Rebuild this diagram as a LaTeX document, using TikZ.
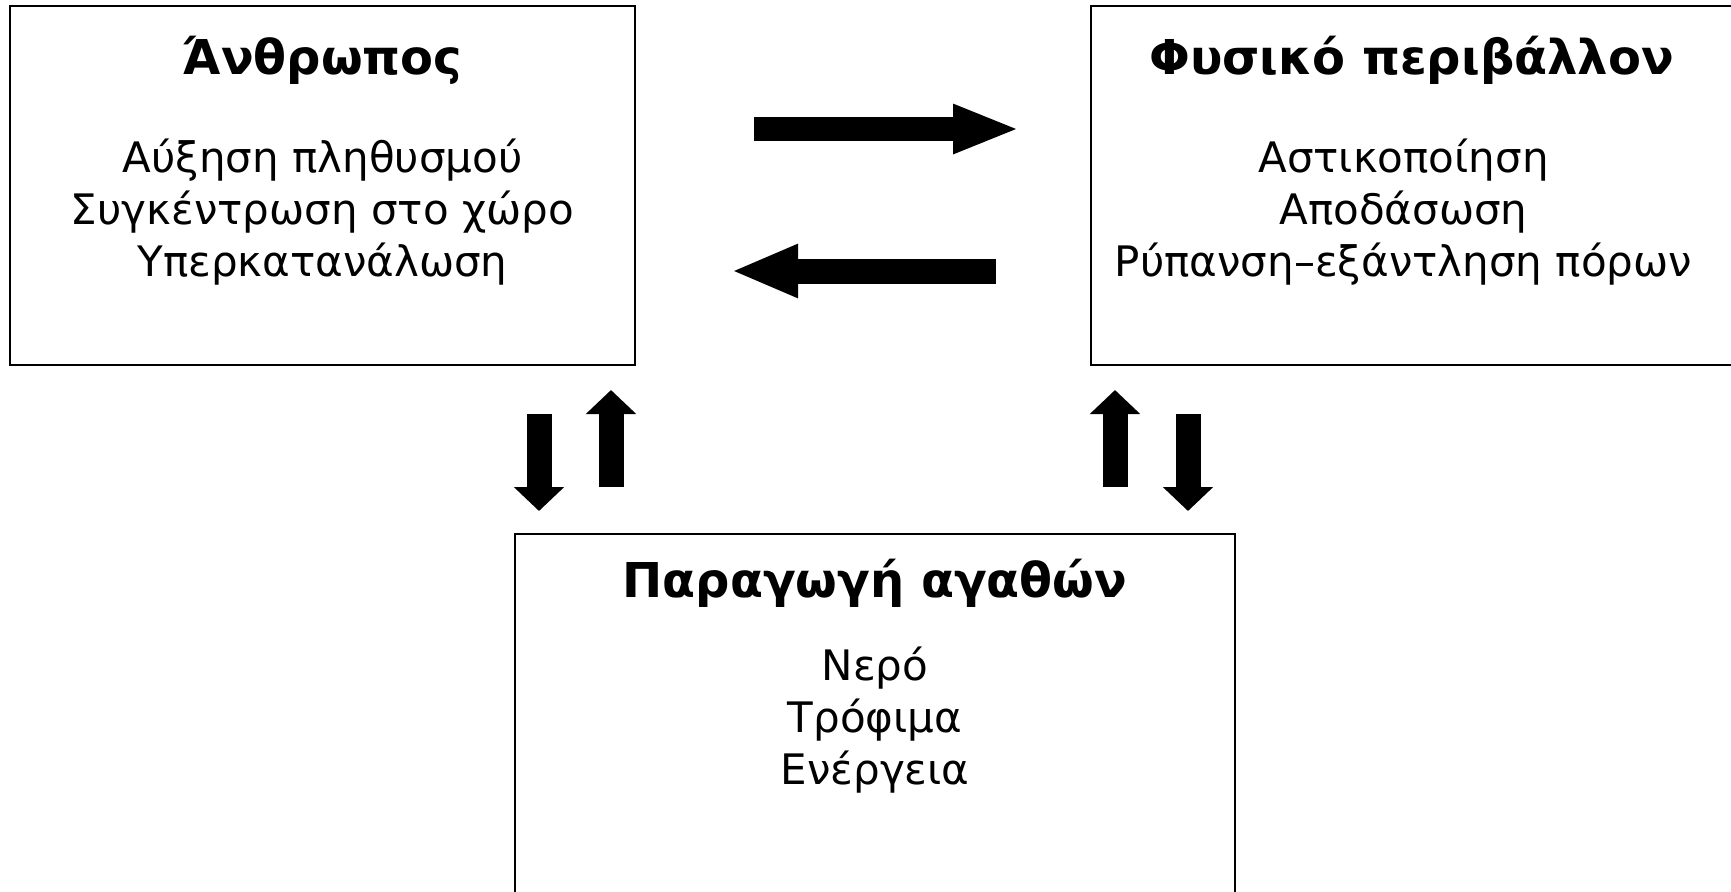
\documentclass[tikz,border=0pt]{standalone}
\usepackage{fontspec}
\setmainfont{DejaVu Sans}
\usetikzlibrary{arrows.meta,positioning,calc}

\begin{document}
\begin{tikzpicture}[x=0.5pt,y=-0.5pt,on grid,
    box/.style={draw,line width=1pt,inner sep=0pt,outer sep=0pt,minimum height=179.5pt},
    hd/.style={font=\bfseries\fontsize{24}{28}\selectfont,inner sep=0pt},
    txt/.style={align=center,font=\fontsize{21}{26}\selectfont,inner sep=0pt},
    fat/.style={line width=12pt,-{Triangle[length=33.5pt,width=22.5pt]}},
    thin/.style={line width=12.5pt,-{Triangle[length=12pt,width=24.5pt]}}]

   \useasboundingbox (0,0) rectangle (1731,891);

   % boxes
   \node[box,minimum width=312.5pt] (anth) at (322.5,185.5) {};
   \node[box,minimum width=320.5pt] (fys) at (1411.5,185.5) {};
   \node[box,minimum width=360pt] (prod) at (875,713.5) {};

   \node[hd,below=15pt of anth.north] (anthT) {Άνθρωπος};
   \node[txt,below=66pt of anth.north] (anthB) {Αύξηση πληθυσμού\\Συγκέντρωση στο χώρο\\Υπερκατανάλωση};

   \node[hd,below=15pt of fys.north] (fysT) {Φυσικό περιβάλλον};
   \node[txt,below=66pt of fys.north,xshift=-4pt] (fysB) {Αστικοποίηση\\Αποδάσωση\\Ρύπανση--εξάντληση πόρων};

   \node[hd,below=12.5pt of prod.north] (prodT) {Παραγωγή αγαθών};
   \node[txt,below=56pt of prod.north] (prodB) {Νερό\\Τρόφιμα\\Ενέργεια};

   % arrows
   \draw[fat] ($(anth.north east)+(119,123)$) -- ($(fys.north west)+(-71,123)$);
   \draw[fat,-{Triangle[length=33.5pt,width=24.5pt]},line width=12.5pt]
     ($(fys.north west)+(-95,265)$) -- ($(anth.north east)+(96,265)$);

   \draw[thin] ($(prod.north west)+(24,-120)$) -- ($(prod.north west)+(24,-23)$);
   \draw[thin] ($(prod.north west)+(96,-47)$) -- ($(prod.north west)+(96,-144)$);
   \draw[thin] ($(prod.north east)+(-120,-47)$) -- ($(prod.north east)+(-120,-144)$);
   \draw[thin] ($(prod.north east)+(-47,-120)$) -- ($(prod.north east)+(-47,-23)$);

\end{tikzpicture}
\end{document}
